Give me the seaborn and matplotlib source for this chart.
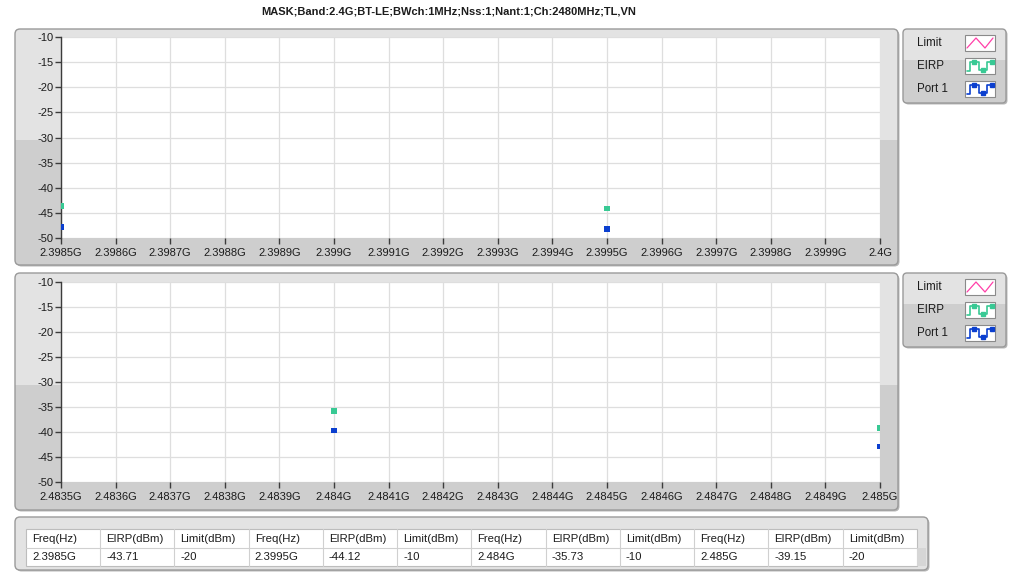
import numpy as np
import pandas as pd
import matplotlib
matplotlib.use("Agg")
import matplotlib.pyplot as plt
from matplotlib.patches import FancyBboxPatch, Rectangle
import seaborn as sns

# ---- measurement data ----
title = "MASK;Band:2.4G;BT-LE;BWch:1MHz;Nss:1;Nant:1;Ch:2480MHz;TL,VN"
series_names = ["EIRP", "Port 1"]
legend_names = ["Limit", "EIRP", "Port 1"]

low_freq = [2.3985e9, 2.3995e9]
low_eirp = [-43.71, -44.12]
low_port = [-47.8, -48.2]

high_freq = [2.484e9, 2.485e9]
high_eirp = [-35.73, -39.15]
high_port = [-39.7, -42.9]

limit_dbm = [-20, -10, -10, -20]

low_span = (2.3985e9, 2.4e9)
high_span = (2.4835e9, 2.485e9)
y_ticks = [-10, -15, -20, -25, -30, -35, -40, -45, -50]
table_headers = ["Freq(Hz)", "EIRP(dBm)", "Limit(dBm)"]

# ---- style ----
W, H = 1018, 579
FONT = "Liberation Sans"
sns.set_theme(style="white")
plt.rcParams["font.family"] = [FONT, "DejaVu Sans"]
TXT = "#1c1c1c"
LIGHT = "#e3e3e3"
DARK = "#cecece"
EDGE = "#9a9a9a"
C_EIRP = "#38c994"
C_PORT = "#0b3fcf"
C_LIMIT = "#ff3fa8"

fig = plt.figure(figsize=(W / 100, H / 100), dpi=100)
fig.patch.set_facecolor("white")

# background canvas in pixel units (origin at top-left)
bg = fig.add_axes([0, 0, 1, 1], zorder=-5)
bg.set_xlim(0, W)
bg.set_ylim(H, 0)
bg.axis("off")


def panel(x0, y0, x1, y1, split, radius=5):
    shadow = FancyBboxPatch((x0 + 1.5, y0 + 1.5), x1 - x0, y1 - y0,
                            boxstyle=f"round,pad=0,rounding_size={radius}",
                            fc="#b8b8b8", ec="none")
    bg.add_patch(shadow)
    frame = FancyBboxPatch((x0, y0), x1 - x0, y1 - y0,
                           boxstyle=f"round,pad=0,rounding_size={radius}",
                           fc=LIGHT, ec="none")
    bg.add_patch(frame)
    if split is not None:
        lower = Rectangle((x0, split), x1 - x0, y1 - split, fc=DARK, ec="none")
        bg.add_patch(lower)
        lower.set_clip_path(frame)
    bg.add_patch(FancyBboxPatch((x0, y0), x1 - x0, y1 - y0,
                                boxstyle=f"round,pad=0,rounding_size={radius}",
                                fc="none", ec=EDGE, lw=1.0))


def fmt_hz(v):
    return f"{v / 1e9:g}G"


def chart(frame_box, split, plot_box, freq, eirp, port, span):
    panel(*frame_box, split)
    x0, y0, x1, y1 = plot_box
    ax = fig.add_axes([x0 / W, 1 - y1 / H, (x1 - x0) / W, (y1 - y0) / H])
    ax.set_facecolor("white")
    df = pd.DataFrame({
        "freq": list(freq) * 2,
        "level": list(eirp) + list(port),
        "trace": [series_names[0]] * len(freq) + [series_names[1]] * len(freq),
    })
    sns.scatterplot(data=df, x="freq", y="level", hue="trace",
                    palette={series_names[0]: C_EIRP, series_names[1]: C_PORT},
                    marker="s", s=18, linewidth=0, legend=False, ax=ax, zorder=3)
    ax.set_xlim(*span)
    ax.set_ylim(-50, -10)
    xt = np.linspace(span[0], span[1], 16)
    ax.set_xticks(xt)
    ax.set_xticklabels([fmt_hz(v) for v in xt])
    ax.set_yticks(y_ticks)
    ax.set_yticklabels([f"{v}" for v in y_ticks])
    ax.set_xlabel("")
    ax.set_ylabel("")
    ax.grid(True, color="#dedede", lw=0.9)
    ax.set_axisbelow(True)
    for s in ["top", "right", "bottom"]:
        ax.spines[s].set_visible(False)
    ax.spines["left"].set_color("#3c3c3c")
    ax.spines["left"].set_linewidth(1.0)
    ax.tick_params(axis="both", direction="out", length=4, width=1,
                   color="#3c3c3c", labelsize=8, labelcolor=TXT, pad=1.5)
    ax.tick_params(axis="x", pad=3)
    ax.tick_params(axis="y", left=True)
    ax.tick_params(axis="x", bottom=True)
    return ax


chart((15, 29, 898, 265), 140, (61, 37, 880, 238),
      low_freq, low_eirp, low_port, low_span)
chart((15, 273, 898, 510), 385, (61, 282, 880, 482),
      high_freq, high_eirp, high_port, high_span)

fig.text(449 / W, 1 - 12 / H, title, ha="center", va="center",
         fontsize=8, fontweight="bold", color=TXT)


# ---- legends ----
def legend(y0):
    panel(903, y0, 1006, y0 + 74, y0 + 31, radius=4)
    rows = [y0 + 14, y0 + 37, y0 + 60]
    for name, yc in zip(legend_names, rows):
        bg.text(917, yc, name, ha="left", va="center", fontsize=8.3, color=TXT)
        bx, by, bw, bh = 965, yc - 8, 30, 16
        bg.add_patch(Rectangle((bx, by), bw, bh, fc="white", ec="#8a8a8a", lw=0.8))
        if name == "Limit":
            xs = [bx + 2, bx + 11, bx + 20, bx + 28]
            ys = [by + 13, by + 3, by + 13, by + 3]
            bg.plot(xs, ys, color=C_LIMIT, lw=0.9)
        else:
            col = C_EIRP if name == "EIRP" else C_PORT
            xs = [bx + 2, bx + 5, bx + 5, bx + 14, bx + 14, bx + 22, bx + 22, bx + 28]
            ys = [by + 13, by + 13, by + 4, by + 4, by + 12, by + 12, by + 4, by + 4]
            bg.plot(xs, ys, color=col, lw=1.2)
            bg.plot([bx + 9, bx + 18, bx + 27], [by + 4, by + 12, by + 4],
                    ls="none", marker="s", ms=2.8, color=col)


legend(29)
legend(273)

# ---- value table ----
panel(15, 517, 928, 570, None, radius=5)
tx0, tx1, ty0, ty1, ty2 = 26, 917, 529, 548, 566
bg.add_patch(Rectangle((tx0, ty0), tx1 - tx0, ty2 - ty0, fc="white", ec="#bdbdbd", lw=0.8))
bg.add_patch(Rectangle((tx1, ty1), 9, ty2 - ty1, fc="#d6d6d6", ec="none"))
all_freq = low_freq + high_freq
all_eirp = low_eirp + high_eirp
cells = []
for f, e, lim in zip(all_freq, all_eirp, limit_dbm):
    cells += [fmt_hz(f), f"{e:g}", f"{lim:g}"]
headers = table_headers * len(all_freq)
ncol = len(headers)
cw = (tx1 - tx0) / ncol
for i in range(1, ncol):
    bg.plot([tx0 + i * cw] * 2, [ty0, ty2], color="#d0d0d0", lw=0.8)
bg.plot([tx0, tx1], [ty1, ty1], color="#d0d0d0", lw=0.8)
for i, (h, c) in enumerate(zip(headers, cells)):
    bg.text(tx0 + i * cw + 6, (ty0 + ty1) / 2, h, ha="left", va="center", fontsize=8.2, color=TXT)
    bg.text(tx0 + i * cw + 6, (ty1 + ty2) / 2, c, ha="left", va="center", fontsize=8.2, color=TXT)

fig.savefig("out.png", dpi=100, facecolor="white")
